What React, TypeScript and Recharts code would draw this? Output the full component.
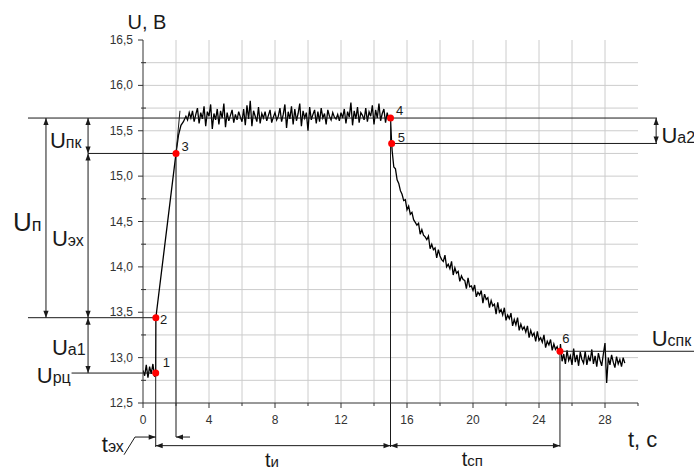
import { LineChart, Line, XAxis, YAxis, ReferenceLine, ReferenceDot } from "recharts"

const FONT = "'Liberation Sans', Arial, sans-serif"
const INK = "#1a1a1a"

// readings before the load (s, V)
const restT = [0, 0.1, 0.2, 0.3, 0.4, 0.5, 0.6, 0.7, 0.77]
const restU = [12.86, 12.8, 12.92, 12.78, 12.9, 12.82, 12.93, 12.79, 12.83]

// front of the pulse
const riseT = [0.78, 2.0, 2.15, 2.3, 2.45]
const riseU = [13.44, 15.25, 15.45, 15.56, 15.6]

// plateau, one reading every 0.1 s from 2.6 s
const plateauFrom = 2.6
const plateauU = [
  15.66, 15.62, 15.7, 15.64, 15.72, 15.6, 15.68, 15.75, 15.58, 15.7,
  15.63, 15.77, 15.55, 15.71, 15.66, 15.79, 15.52, 15.69, 15.62, 15.74,
  15.57, 15.72, 15.64, 15.8, 15.54, 15.7, 15.61, 15.67, 15.73, 15.59,
  15.68, 15.62, 15.71, 15.65, 15.6, 15.74, 15.56, 15.78, 15.63, 15.83,
  15.55, 15.72, 15.66, 15.6, 15.76, 15.58, 15.69, 15.64, 15.71, 15.61,
  15.67, 15.73, 15.59, 15.65, 15.7, 15.62, 15.66, 15.75, 15.6, 15.68,
  15.79, 15.53, 15.71, 15.63, 15.77, 15.57, 15.74, 15.61, 15.69, 15.8,
  15.55, 15.72, 15.64, 15.7, 15.5, 15.76, 15.62, 15.68, 15.73, 15.58,
  15.71, 15.6, 15.75, 15.64, 15.69, 15.57, 15.73, 15.66, 15.62, 15.7,
  15.65, 15.63, 15.68, 15.61, 15.7, 15.64, 15.74, 15.58, 15.71, 15.65,
  15.81, 15.56, 15.72, 15.63, 15.76, 15.59, 15.7, 15.67, 15.62, 15.75,
  15.6, 15.71, 15.66, 15.78, 15.57, 15.73, 15.64, 15.8, 15.61, 15.69,
  15.74, 15.59, 15.7, 15.62,
]

// load switched off
const dropT = [15.0, 15.07]
const dropU = [15.64, 15.36]

// recovery, every 0.1 s from 15.1 s
const decayFrom = 15.1
const decayU = [
  15.28, 15.1, 15.08, 14.96, 14.92, 14.84, 14.8, 14.73, 14.74, 14.63,
  14.67, 14.58, 14.6, 14.52, 14.49, 14.46, 14.48, 14.36, 14.41, 14.35,
  14.33, 14.3, 14.34, 14.2, 14.25, 14.19, 14.21, 14.1, 14.19, 14.12,
  14.08, 14.06, 14.13, 14.0, 14.03, 13.98, 14.06, 13.91, 13.99, 13.93,
  13.95, 13.84, 13.9, 13.86, 13.85, 13.76, 13.88, 13.78, 13.79, 13.74,
  13.8, 13.67, 13.72, 13.69, 13.74, 13.6, 13.7, 13.64, 13.66, 13.55,
  13.63, 13.57, 13.59, 13.48, 13.61, 13.5, 13.53, 13.47, 13.55, 13.41,
  13.47, 13.43, 13.49, 13.35, 13.42, 13.36, 13.44, 13.3, 13.37, 13.31,
  13.34, 13.28, 13.35, 13.22, 13.3, 13.24, 13.27, 13.18, 13.29, 13.19,
  13.22, 13.17, 13.25, 13.11, 13.18, 13.14, 13.2, 13.08, 13.15, 13.09,
  13.12, 13.05,
]
const endT = [25.27]
const endU = [13.07]

// settled, every 0.1 s from 25.3 s
const tailFrom = 25.3
const tailU = [
  13.15, 12.96, 13.04, 12.93, 13.08, 12.97, 13.02, 12.92, 13.1, 12.95,
  13.03, 12.91, 13.06, 12.98, 12.94, 13.07, 12.92, 13.01, 12.96, 13.09,
  12.93, 13.02, 12.9, 13.05, 12.97, 12.91, 13.04, 13.16, 12.72, 13.0,
  12.92, 13.03, 12.95, 12.89, 13.01, 12.93, 12.98, 12.9, 13.0, 12.94,
]

// characteristic points 1..6
const markT = [0.77, 0.78, 2.0, 15.0, 15.07, 25.27]
const markU = [12.83, 13.44, 15.25, 15.64, 15.36, 13.07]
const markNames = ["1", "2", "3", "4", "5", "6"]

const xTicks = [0, 2, 4, 6, 8, 10, 12, 14, 16, 18, 20, 22, 24, 26, 28, 30]
const yTicks = [12.5, 12.75, 13, 13.25, 13.5, 13.75, 14, 14.25, 14.5, 14.75, 15, 15.25, 15.5, 15.75, 16, 16.25, 16.5]
const gridX = [2, 4, 6, 8, 10, 12, 14, 16, 18, 20, 22, 24, 26, 28]
const gridY = [12.75, 13, 13.25, 13.5, 13.75, 14, 14.25, 14.5, 14.75, 15, 15.25, 15.5, 15.75, 16, 16.25]

const paired = (ts: number[], us: number[]) => ts.map((t, i) => ({ t, u: us[i] }))
const sampled = (from: number, us: number[]) =>
  us.map((u, i) => ({ t: Math.round((from + i * 0.1) * 100) / 100, u }))

const data = [
  ...paired(restT, restU),
  ...paired(riseT, riseU),
  ...sampled(plateauFrom, plateauU),
  ...paired(dropT, dropU),
  ...sampled(decayFrom, decayU),
  ...paired(endT, endU),
  ...sampled(tailFrom, tailU),
]

const [t1, , t3, t4, t5, t6] = markT
const [u1, u2, u3, u4, u5, u6] = markU

type Heads = "none" | "start" | "end" | "both"

const arrow = (heads: Heads) => (p: any) => {
  const { x1, y1, x2, y2 } = p
  const len = Math.hypot(x2 - x1, y2 - y1) || 1
  const ux = (x2 - x1) / len
  const uy = (y2 - y1) / len
  const L = 7
  const W = 2.6
  const head = (x: number, y: number, sx: number, sy: number) =>
    `${x},${y} ${x - sx * L - sy * W},${y - sy * L + sx * W} ${x - sx * L + sy * W},${y - sy * L - sx * W}`
  return (
    <g>
      <line x1={x1} y1={y1} x2={x2} y2={y2} stroke={INK} strokeWidth={1} />
      {(heads === "end" || heads === "both") && <polygon points={head(x2, y2, ux, uy)} fill={INK} />}
      {(heads === "start" || heads === "both") && <polygon points={head(x1, y1, -ux, -uy)} fill={INK} />}
    </g>
  )
}

const seg = (key: string, a: [number, number], b: [number, number], heads: Heads = "none") => (
  <ReferenceLine
    key={key}
    segment={[{ x: a[0], y: a[1] }, { x: b[0], y: b[1] }]}
    ifOverflow="visible"
    shape={arrow(heads)}
  />
)

const note = (key: string, t: number, u: number, main: string, sub = "", size = 22, subSize = 16, anchor = "start") => (
  <ReferenceDot
    key={key}
    x={t}
    y={u}
    r={0}
    ifOverflow="visible"
    shape={(p: any) => (
      <text x={p.cx} y={p.cy} textAnchor={anchor} fontFamily={FONT} fill={INK}>
        <tspan fontSize={size}>{main}</tspan>
        {sub && <tspan fontSize={subSize}>{sub}</tspan>}
      </text>
    )}
  />
)

const fmt = (v: number) => v.toFixed(1).replace(".", ",")

const XTick = (p: any) => {
  const v = p.payload.value
  const major = v % 4 === 0 && v < 30
  return (
    <g>
      <line x1={p.x} x2={p.x} y1={p.y} y2={p.y + (major ? 5 : 3)} stroke="#333" />
      {major && (
        <text x={p.x} y={p.y + 21} textAnchor="middle" fontSize={12} fontFamily={FONT} fill="#333">
          {v}
        </text>
      )}
    </g>
  )
}

const YTick = (p: any) => {
  const v = p.payload.value
  const major = Math.abs(v * 2 - Math.round(v * 2)) < 1e-6
  return (
    <g>
      <line x1={p.x - (major ? 5 : 2)} x2={p.x + (major ? 0 : 3)} y1={p.y} y2={p.y} stroke="#333" />
      {major && (
        <text x={p.x - 10} y={p.y + 4} textAnchor="end" fontSize={12} fontFamily={FONT} fill="#333">
          {fmt(v)}
        </text>
      )}
    </g>
  )
}

export default function App() {
  return (
    <div style={{ position: "absolute", left: 0, top: 0, background: "#fff" }}>
      <LineChart width={694} height={470} data={data} margin={{ top: 40, right: 56, bottom: 37, left: 0 }}>
        {gridX.map((v) => (
          <ReferenceLine key={"gx" + v} x={v} stroke="#cccccc" strokeWidth={1} />
        ))}
        {gridY.map((v) => (
          <ReferenceLine key={"gy" + v} y={v} stroke="#cccccc" strokeWidth={1} />
        ))}
        <XAxis
          dataKey="t"
          type="number"
          domain={[0, 30]}
          ticks={xTicks}
          interval={0}
          tickLine={false}
          tickSize={0}
          tickMargin={0}
          height={30}
          axisLine={{ stroke: "#333" }}
          tick={XTick}
          allowDataOverflow
        />
        <YAxis
          type="number"
          domain={[12.5, 16.5]}
          ticks={yTicks}
          interval={0}
          tickLine={false}
          tickSize={0}
          tickMargin={0}
          width={143}
          axisLine={{ stroke: "#333" }}
          tick={YTick}
          allowDataOverflow
        />
        <Line type="linear" dataKey="u" stroke="#000" strokeWidth={1.3} dot={false} isAnimationActive={false} />

        {/* level lines */}
        {seg("h4", [-6.97, u4], [31.15, u4])}
        {seg("h3", [-3.33, u3], [t3, u3])}
        {seg("h2", [-6.97, u2], [t1, u2])}
        {seg("h1", [-4.33, u1], [t1, u1])}
        {seg("h5", [t5, u5], [31.15, u5])}
        {seg("h6", [t6, u6], [33.6, u6])}
        {/* drop lines */}
        {seg("v1", [t1, u1], [t1, 12.015])}
        {seg("v3", [t3, u3], [t3, 12.125])}
        {seg("v4", [t4, u4], [t4, 12.015])}
        {seg("v6", [t6, u6], [t6, 12.015])}
        {seg("tan", [t3, u3], [2.24, 15.72])}
        {/* voltage dimensions */}
        {seg("dUn", [-5.88, u4], [-5.88, u2], "both")}
        {seg("dUnk", [-3.33, u4], [-3.33, u3], "both")}
        {seg("dUex", [-3.33, u3], [-3.33, u2], "both")}
        {seg("dUa1", [-3.33, u2], [-3.33, u1], "both")}
        {seg("dUa2", [31.1, u4], [31.1, u5], "both")}
        {/* time dimensions */}
        {seg("dTexL", [-0.485, 12.125], [t1, 12.125], "end")}
        {seg("dTexR", [2.85, 12.125], [t3, 12.125], "end")}
        {seg("dTexLead", [-1.15, 11.93], [-0.485, 12.125])}
        {seg("dTi", [t1, 12.03], [t4, 12.03], "both")}
        {seg("dTsp", [t4, 12.03], [t6, 12.03], "both")}

        {markT.map((t, i) => (
          <ReferenceDot key={"m" + i} x={t} y={markU[i]} r={3.5} fill="#ff0000" stroke="none" ifOverflow="visible" isFront />
        ))}

        {note("n1", 1.19, 12.9, markNames[0], "", 13)}
        {note("n2", 1.03, 13.37, markNames[1], "", 13)}
        {note("n3", 2.33, 15.28, markNames[2], "", 13)}
        {note("n4", 15.33, 15.674, markNames[3], "", 13)}
        {note("n5", 15.44, 15.38, markNames[4], "", 13)}
        {note("n6", 25.41, 13.164, markNames[5], "", 13)}

        {note("axU", 0.24, 16.62, "U, В", "", 20, 20, "middle")}
        {note("axT", 29.39, 12.019, "t, с", "", 22)}
        {note("Un", -7.88, 14.395, "U", "п", 26, 18)}
        {note("Unk", -5.64, 15.313, "U", "пк")}
        {note("Uex", -5.52, 14.233, "U", "эх")}
        {note("Ua1", -5.52, 13.029, "U", "a1")}
        {note("Urc", -6.44, 12.717, "U", "рц")}
        {note("Ua2", 31.42, 15.362, "U", "a2")}
        {note("Uspk", 30.83, 13.128, "U", "спк")}
        {note("tex", -2.5, 11.963, "t", "эх", 22, 16)}
        {note("ti", 7.39, 11.8, "t", "и", 20, 15)}
        {note("tsp", 19.32, 11.806, "t", "сп", 20, 15)}
      </LineChart>
    </div>
  )
}
